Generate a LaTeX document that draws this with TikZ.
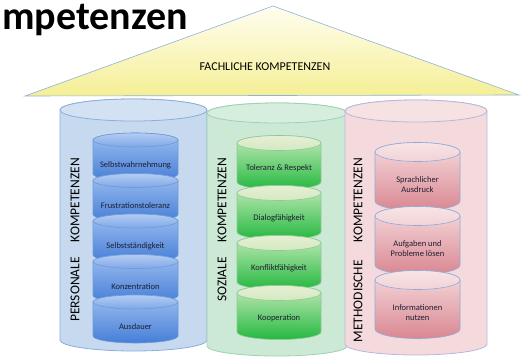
\documentclass[tikz,border=0pt]{standalone}
\usepackage{fontspec}
\setmainfont{Carlito}

\definecolor{roofhi}{HTML}{FFFEF0}
\definecolor{roofyel}{HTML}{F5EF95}
\definecolor{roofline}{HTML}{8FB1DC}
\definecolor{persobg}{HTML}{C7D9EE}
\definecolor{persotop}{HTML}{D3E2F3}
\definecolor{persoline}{HTML}{8CAEDB}
\definecolor{persodischi}{HTML}{9DBFF0}
\definecolor{persodisclo}{HTML}{467ED7}
\definecolor{persolidhi}{HTML}{B3CDF3}
\definecolor{persolidlo}{HTML}{7FA7E8}
\definecolor{persodiscline}{HTML}{6F9AD8}
\definecolor{sozbg}{HTML}{CCE9D6}
\definecolor{soztop}{HTML}{D6EEDD}
\definecolor{sozline}{HTML}{9FD1B0}
\definecolor{sozdischi}{HTML}{C4EBBA}
\definecolor{sozdisclo}{HTML}{25B840}
\definecolor{sozlidhi}{HTML}{E6EFD4}
\definecolor{sozlidlo}{HTML}{D3E9C0}
\definecolor{sozdiscline}{HTML}{8FC997}
\definecolor{methbg}{HTML}{F4DADC}
\definecolor{methtop}{HTML}{F6E1E3}
\definecolor{methline}{HTML}{B9B6DC}
\definecolor{methdischi}{HTML}{F5DCDF}
\definecolor{methdisclo}{HTML}{D98791}
\definecolor{methlidhi}{HTML}{F7E4E6}
\definecolor{methlidlo}{HTML}{F1D3D6}
\definecolor{methdiscline}{HTML}{93A8D8}
\definecolor{labelink}{HTML}{1E1E30}

% drum: x1, x2, top, bottom, y radius, body style, lid style
\newcommand{\drum}[7]{%
  \pgfmathsetmacro{\drumrx}{(#2-#1)/2}%
  \pgfmathsetmacro{\drumcx}{(#1+#2)/2}%
  \path[#6] (#1,#3) -- (#1,#4)
    arc[start angle=180,end angle=360,x radius=\drumrx pt,y radius=#5pt]
    -- (#2,#3)
    arc[start angle=0,end angle=180,x radius=\drumrx pt,y radius=#5pt] -- cycle;
  \path[#7] (\drumcx,#3) ellipse[x radius=\drumrx pt,y radius=#5pt];
}

\begin{document}
\begin{tikzpicture}[x=1pt,y=-1pt,
  roof/.style={draw=roofline,line width=0.6pt,top color=roofhi,bottom color=roofyel},
  persobody/.style={draw=persoline,line width=0.8pt,fill=persobg},
  persolid/.style={draw=persoline,line width=0.8pt,fill=persotop},
  persodisc/.style={draw=persodiscline,line width=0.6pt,top color=persodischi,bottom color=persodisclo},
  persodisclid/.style={draw=persodiscline,line width=0.6pt,top color=persolidhi,bottom color=persolidlo},
  sozbody/.style={draw=sozline,line width=0.8pt,fill=sozbg},
  sozlid/.style={draw=sozline,line width=0.8pt,fill=soztop},
  sozdisc/.style={draw=sozdiscline,line width=0.6pt,top color=sozdischi,bottom color=sozdisclo},
  sozdisclid/.style={draw=sozdiscline,line width=0.6pt,top color=sozlidhi,bottom color=sozlidlo},
  methbody/.style={draw=methline,line width=0.8pt,fill=methbg},
  methlid/.style={draw=methline,line width=0.8pt,fill=methtop},
  methdisc/.style={draw=methdiscline,line width=0.6pt,top color=methdischi,bottom color=methdisclo},
  methdisclid/.style={draw=methdiscline,line width=0.6pt,top color=methlidhi,bottom color=methlidlo},
  pillar/.style={font=\fontsize{13.5}{15}\selectfont,rotate=90,anchor=east,inner sep=0pt},
  disclabel/.style={font=\fontsize{8.5}{10}\selectfont,text=labelink,align=center,inner sep=1pt}]
\useasboundingbox (0,0) rectangle (521,361);

\node[anchor=base west,inner sep=0pt,text height=24pt,font=\fontsize{40}{46}\selectfont\bfseries] (title) at (2,30) {mpetenzen};

% roof
\path[roof] (25,96) -- (273,6) -- (519,95) -- cycle;
\node[font=\fontsize{12}{14}\selectfont] (fach) at (265,67) {FACHLICHE KOMPETENZEN};

% the three pillars
\drum{60}{207}{110}{340}{11}{persobody}{persolid}
\drum{207}{347}{113}{346}{10}{sozbody}{sozlid}
\drum{345}{487}{111}{344}{11}{methbody}{methlid}

\node[pillar] (perso) at (75,158) {PERSONALE\hspace{15pt}KOMPETENZEN};
\node[pillar] (soz) at (222,158) {SOZIALE\hspace{15pt}KOMPETENZEN};
\node[pillar] (meth) at (358,158) {METHODISCHE\hspace{18pt}KOMPETENZEN};

% personal discs
\foreach \yt/\txt [count=\i] in {140/Selbstwahrnehmung,180.5/Frustrationstoleranz,221/Selbstständigkeit,261.5/Konzentration,302/Ausdauer}{
  \drum{93}{178}{\yt}{\yt+34}{7}{persodisc}{persodisclid}
  \node[disclabel] (pd\i) at (135.5,\yt+25) {\txt};
}

% social discs
\foreach \yt/\txt [count=\i] in {143/Toleranz \& Respekt,193/Dialogfähigkeit,243/Konfliktfähigkeit,293/Kooperation}{
  \drum{237}{321}{\yt}{\yt+39}{7.5}{sozdisc}{sozdisclid}
  \node[disclabel] (sd\i) at (279,\yt+25) {\txt};
}

% method discs
\foreach \yt/\txt [count=\i] in {152/{Sprachlicher\\Ausdruck},216/{Aufgaben und\\Probleme lösen},280/{Informationen\\nutzen}}{
  \drum{375}{460}{\yt}{\yt+49}{9.5}{methdisc}{methdisclid}
  \node[disclabel] (md\i) at (417.5,\yt+33) {\txt};
}
\end{tikzpicture}
\end{document}
